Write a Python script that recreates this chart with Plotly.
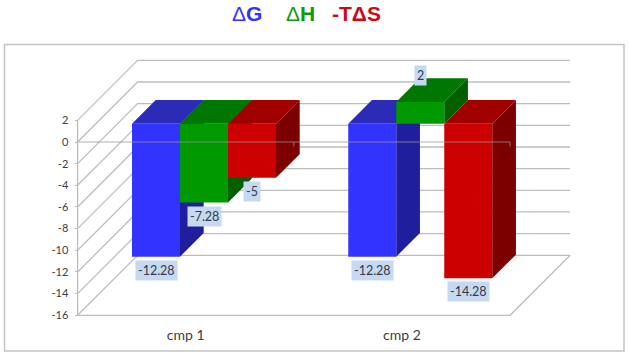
import plotly.graph_objects as go

# ---- data ----
categories = ["cmp 1", "cmp 2"]
delta_g = [-12.28, -12.28]
delta_h = [-7.28, 2]
minus_t_delta_s = [-5, -14.28]
axis_ticks = [2, 0, -2, -4, -6, -8, -10, -12, -14, -16]

series_names = ["ΔG", "ΔH", "-TΔS"]
series_values = [delta_g, delta_h, minus_t_delta_s]
front_colors = ["#3333ff", "#009900", "#cc0000"]
top_colors = ["#2b2bb8", "#007700", "#a00000"]
side_colors = ["#1f1f9e", "#006000", "#7c0000"]

# ---- pseudo-3D scale ----
W, H = 629, 356
PX_CAT, PX_VAL = 216.25, 10.83
X0_PX, Y0_PX = 185.7, 142.0
DEPTH_PX = 60.0
BAR_W = 48 / PX_CAT
D_FRONT, D_BACK = 0.305, 0.70
GRID = "#bdbdbd"


def dx(d):
    return d * DEPTH_PX / PX_CAT


def dv(d):
    return d * DEPTH_PX / PX_VAL


def poly(xs, ys, color, z, name):
    return go.Scatter(x=xs, y=ys, mode="lines", fill="toself", fillcolor=color,
                      line=dict(width=0, color=color), hoverinfo="skip",
                      showlegend=False, zorder=z, name=name)


fig = go.Figure()

# walls and floor
left_edge = -0.5
right_edge = 0.5 + len(categories) - 1
for t in axis_ticks:
    fig.add_trace(go.Scatter(
        x=[left_edge, left_edge + dx(1), right_edge + dx(1)],
        y=[t, t + dv(1), t + dv(1)], mode="lines",
        line=dict(color=GRID, width=1.3), hoverinfo="skip", showlegend=False, zorder=0))
lo, hi = min(axis_ticks), max(axis_ticks)
fig.add_trace(go.Scatter(x=[left_edge, left_edge], y=[hi, lo], mode="lines",
                         line=dict(color=GRID, width=1.3), hoverinfo="skip", showlegend=False, zorder=0))
fig.add_trace(go.Scatter(x=[left_edge, right_edge, right_edge + dx(1)], y=[lo, lo, lo + dv(1)],
                         mode="lines", line=dict(color=GRID, width=1.3), hoverinfo="skip",
                         showlegend=False, zorder=0))

# bars
annotations = []
for i, (name, vals) in enumerate(zip(series_names, series_values)):
    shift = (i - 1) * BAR_W
    for c, v in enumerate(vals):
        xl = c + shift - BAR_W / 2 + dx(D_FRONT)
        xr = xl + BAR_W
        ybase = dv(D_FRONT)
        ytop_f = ybase + max(v, 0)
        ybot_f = ybase + min(v, 0)
        ddx, ddv = dx(D_BACK - D_FRONT), dv(D_BACK - D_FRONT)
        fig.add_trace(poly([xr, xr + ddx, xr + ddx, xr, xr],
                           [ybot_f, ybot_f + ddv, ytop_f + ddv, ytop_f, ybot_f],
                           side_colors[i], 2 * i + 1, name))
        fig.add_trace(poly([xl, xr, xr + ddx, xl + ddx, xl],
                           [ytop_f, ytop_f, ytop_f + ddv, ytop_f + ddv, ytop_f],
                           top_colors[i], 2 * i + 1, name))
        annotations.append(dict(
            x=(xl + xr) / 2, y=v + ybase, xref="x", yref="y", text=str(v), showarrow=False,
            yshift=27 if v > 0 else -13.5, bgcolor="#c6d9f1", borderpad=2,
            font=dict(family="Lato", size=12.5, color="#303a4a")))
    fig.add_trace(go.Bar(
        x=[c + shift + dx(D_FRONT) for c in range(len(vals))], y=vals,
        base=[dv(D_FRONT)] * len(vals), width=BAR_W, name=name,
        marker=dict(color=front_colors[i], line=dict(width=0)),
        showlegend=False, hoverinfo="skip", zorder=2 * i + 2))

# zero plane edge, drawn on top of the bars
fig.add_trace(go.Scatter(
    x=[left_edge, right_edge, right_edge], y=[0, 0, -0.4], mode="lines",
    line=dict(color="rgba(150,150,150,0.75)", width=1), hoverinfo="skip",
    showlegend=False, zorder=20))
fig.add_trace(go.Scatter(
    x=[0.5, 0.5], y=[0, -0.4], mode="lines",
    line=dict(color="rgba(150,150,150,0.75)", width=1), hoverinfo="skip",
    showlegend=False, zorder=20))

# title in three colours
title_parts = [("Δ", "G", 247, front_colors[0]), ("Δ", "H", 300, "#109a10"), ("-TΔ", "S", 356, "#cc0a14")]
for pre, bold, cx, col in title_parts:
    text = f"<b>{pre}{bold}</b>" if pre.startswith("-") else f"{pre}<b>{bold}</b>"
    annotations.append(dict(x=cx / W, y=1 - 13 / H, xref="paper", yref="paper", text=text,
                            xanchor="center", yanchor="middle",
                            showarrow=False, font=dict(family="Liberation Sans", size=21, color=col)))

fig.update_layout(
    width=W, height=H, margin=dict(l=0, r=0, t=0, b=0, pad=0), autosize=False,
    paper_bgcolor="white", plot_bgcolor="white", showlegend=False, barmode="overlay",
    annotations=annotations,
    shapes=[dict(type="rect", xref="paper", yref="paper", x0=4.5 / W, x1=624 / W,
                 y0=1 - 351 / H, y1=1 - 44.5 / H, line=dict(color="#c4c4c4", width=1.5),
                 fillcolor="rgba(0,0,0,0)", layer="below")],
    xaxis=dict(range=[-X0_PX / PX_CAT, (W - X0_PX) / PX_CAT], domain=[0, 1],
               tickmode="array", tickvals=list(range(len(categories))), ticktext=categories,
               showgrid=False, zeroline=False, showline=False, anchor="free",
               position=1 - 315.5 / H, ticks="outside", ticklen=7, tickcolor="rgba(0,0,0,0)",
               tickfont=dict(family="Lato", size=14, color="#404040")),
    yaxis=dict(range=[(Y0_PX - H) / PX_VAL, Y0_PX / PX_VAL], domain=[0, 1],
               tickmode="array", tickvals=axis_ticks, ticktext=[str(t) for t in axis_ticks],
               showgrid=False, zeroline=False, showline=False, anchor="free",
               position=77.5 / W, ticks="outside", ticklen=3, tickcolor=GRID, ticklabelstandoff=4,
               tickfont=dict(family="Lato", size=11, color="#404040")),
)

fig.write_html("out.html", config=dict(displayModeBar=False),
               post_script="document.body.style.margin='0';document.documentElement.style.overflow='hidden';")
